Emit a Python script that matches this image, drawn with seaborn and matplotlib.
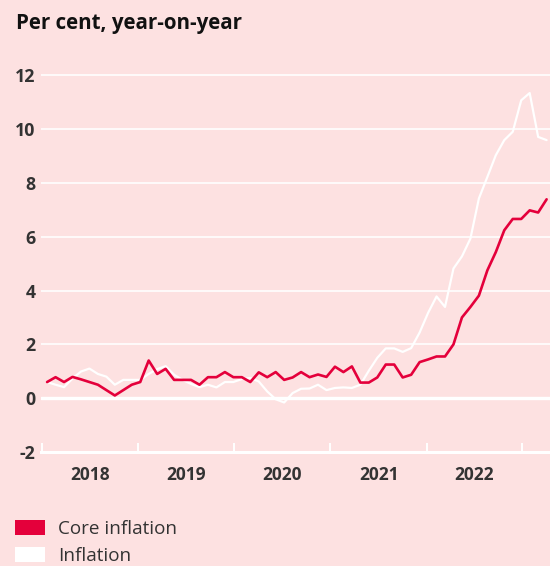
import numpy as np
import pandas as pd
import matplotlib.pyplot as plt
import seaborn as sns
from matplotlib.patches import Patch

# monthly readings, per cent year-on-year
core_inflation = [0.6, 0.78, 0.6, 0.79, 0.7, 0.6, 0.5, 0.3, 0.1, 0.3,
                  0.5, 0.6, 1.4, 0.9, 1.09, 0.68, 0.68, 0.68, 0.5, 0.78,
                  0.78, 0.97, 0.78, 0.78, 0.6, 0.96, 0.78, 0.97, 0.68, 0.77,
                  0.97, 0.78, 0.88, 0.79, 1.17, 0.97, 1.18, 0.58, 0.58, 0.77,
                  1.25, 1.25, 0.77, 0.87, 1.34, 1.44, 1.55, 1.55, 2.0, 3.0,
                  3.39, 3.81, 4.75, 5.43, 6.24, 6.66, 6.66, 6.98, 6.9, 7.39]
inflation = [0.6, 0.5, 0.41, 0.73, 0.99, 1.1, 0.9, 0.8, 0.5, 0.68,
             0.68, 0.68, 0.9, 1.08, 1.19, 0.87, 0.68, 0.53, 0.41, 0.5,
             0.4, 0.6, 0.6, 0.71, 0.75, 0.62, 0.25, -0.04, -0.16, 0.19,
             0.35, 0.36, 0.5, 0.3, 0.38, 0.4, 0.38, 0.5, 1.02, 1.5,
             1.85, 1.85, 1.72, 1.86, 2.44, 3.17, 3.78, 3.39, 4.82, 5.27,
             5.93, 7.42, 8.22, 9.03, 9.59, 9.9, 11.07, 11.34, 9.71, 9.59]
years = ['2018', '2019', '2020', '2021', '2022']
yticks = [-2, 0, 2, 4, 6, 8, 10, 12]

df = pd.DataFrame({'month': np.arange(len(inflation)),
                   'Core inflation': core_inflation,
                   'Inflation': inflation})

bg = '#fde1e1'
red = '#e4003b'
txt = '#333333'

sns.set_style('white', {'axes.facecolor': bg, 'figure.facecolor': bg})
plt.rcParams['font.family'] = ['Open Sans', 'DejaVu Sans']

fig = plt.figure(figsize=(5.5, 5.66), dpi=100)
ax = fig.add_axes([41 / 550, 114 / 566, 1 - 41 / 550, (452 - 64.5) / 566])

sns.lineplot(data=df, x='month', y='Inflation', color='white', linewidth=1.6, ax=ax)
sns.lineplot(data=df, x='month', y='Core inflation', color=red, linewidth=1.9, ax=ax)

ax.set_xlim(-0.72, 59.4)
ax.set_ylim(-2, 12.4)

# year boundaries in month units (from the picture's tick marks)
edges = [-0.62, 10.70, 22.11, 33.45, 44.86, 56.08]
mids = [(a + b) / 2 for a, b in zip(edges[:-1], edges[1:])]
ax.set_xticks(edges)
ax.set_xticklabels([''] * len(edges))
ax.set_xticks(mids, minor=True)
ax.set_xticklabels(years, minor=True)
ax.tick_params(axis='x', which='major', bottom=True, direction='in', length=6.5,
               width=1.4, color='white')
ax.tick_params(axis='x', which='minor', bottom=True, length=0, pad=10,
               labelsize=12.5, labelcolor=txt)
for lab in ax.get_xticklabels(minor=True):
    lab.set_fontweight('bold')

ax.set_yticks(yticks)
ax.set_yticklabels([str(v) for v in yticks], fontweight='bold')
ax.tick_params(axis='y', length=0, pad=4, labelsize=12.8, labelcolor=txt)

ax.grid(axis='y', color='white', linewidth=1.2)
ax.set_axisbelow(True)
ax.axhline(0, color='white', linewidth=2.4, zorder=1.5)
for s in ['top', 'right', 'left']:
    ax.spines[s].set_visible(False)
ax.spines['bottom'].set_color('white')
ax.spines['bottom'].set_linewidth(2.2)
ax.set_xlabel('')
ax.set_ylabel('')

fig.text(16 / 550, 1 - 29.5 / 566, 'Per cent, year-on-year', fontsize=14.8,
         fontweight='bold', color='#111111', va='baseline', ha='left')

handles = [Patch(facecolor=red, edgecolor='none', label='Core inflation'),
           Patch(facecolor='white', edgecolor='none', label='Inflation')]
fig.legend(handles=handles, loc='upper left', bbox_to_anchor=(7 / 550, 1 - 512 / 566),
           frameon=False, fontsize=13.6, handlelength=1.6, handleheight=0.85,
           handletextpad=0.72, labelspacing=0.5, labelcolor=txt,
           borderaxespad=0, borderpad=0.4)

fig.savefig('out.png', dpi=100, facecolor=bg)
